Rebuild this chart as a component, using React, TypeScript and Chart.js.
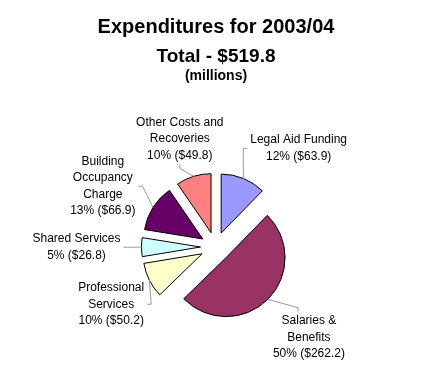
import React, { useEffect, useRef } from "react";
import { Chart, registerables } from "chart.js";

Chart.register(...registerables);

// ---- data ----
const categories: string[][] = [
  ["Legal Aid Funding"],
  ["Salaries &", "Benefits"],
  ["Professional", "Services"],
  ["Shared Services"],
  ["Building", "Occupancy", "Charge"],
  ["Other Costs and", "Recoveries"],
];
const values: number[] = [63.9, 262.2, 50.2, 26.8, 66.9, 49.8];
const colors: string[] = ["#9999FF", "#993366", "#FFFFCC", "#CCFFFF", "#660066", "#FF8080"];
const titleText = "Expenditures for 2003/04";
const totalText = "Total - $519.8";
const unitText = "(millions)";

// ---- style / layout ----
const FONT = "Arial, 'Liberation Sans', sans-serif";
const RADIUS = 59;
const EXPLODE = 15;
const LINE_H = 16.5;
const labelDistance: number[] = [129, 130, 119, 139, 128, 114];
const labelShift: number[] = [18, -1, -2, 0, -4, -1];

const total = values.reduce((a, b) => a + b, 0);

const piePlugin = {
  id: "explodedPieLabels",
  afterDatasetUpdate(chart: any) {
    const area = chart.chartArea;
    const cx = (area.left + area.right) / 2;
    const cy = (area.top + area.bottom) / 2;
    const meta = chart.getDatasetMeta(0);
    meta.data.forEach((arc: any) => {
      const mid = (arc.startAngle + arc.endAngle) / 2;
      arc.x = cx + Math.cos(mid) * EXPLODE;
      arc.y = cy + Math.sin(mid) * EXPLODE;
    });
  },
  afterDraw(chart: any) {
    const ctx: CanvasRenderingContext2D = chart.ctx;
    const area = chart.chartArea;
    const cx = (area.left + area.right) / 2;
    const cy = (area.top + area.bottom) / 2;
    const tx = chart.width / 2 + 3;
    ctx.save();
    ctx.fillStyle = "#000";
    ctx.textAlign = "center";
    ctx.textBaseline = "alphabetic";
    ctx.font = `bold 20px ${FONT}`;
    ctx.fillText(titleText, tx, 33);
    ctx.font = `bold 19px ${FONT}`;
    ctx.fillText(totalText, tx, 62);
    ctx.font = `bold 14px ${FONT}`;
    ctx.fillText(unitText, tx, 80);

    const meta = chart.getDatasetMeta(0);
    ctx.font = `12px ${FONT}`;
    meta.data.forEach((arc: any, i: number) => {
      const mid = (arc.startAngle + arc.endAngle) / 2;
      const r = arc.outerRadius;
      const px = arc.x + Math.cos(mid) * r;
      const py = arc.y + Math.sin(mid) * r;
      const a = mid + (labelShift[i] * Math.PI) / 180;
      const lx = cx + Math.cos(a) * labelDistance[i];
      const ly = cy + Math.sin(a) * labelDistance[i];
      const pct = Math.round((values[i] / total) * 100);
      const lines = [...categories[i], `${pct}% ($${values[i].toFixed(1)})`];
      const w = Math.max(...lines.map((l) => ctx.measureText(l).width));
      const n = lines.length;
      const halfH = (n * LINE_H) / 2;

      // leader line
      const dx = px - lx;
      const dy = py - ly;
      let sx: number, sy: number, bx: number, by: number;
      if (Math.abs(dx) > 1.1 * Math.abs(dy)) {
        const side = dx > 0 ? 1 : -1;
        sx = lx + side * (w / 2 + 3);
        sy = ly;
        bx = sx + side * 4;
        by = sy;
      } else {
        const side = dy > 0 ? 1 : -1;
        sy = ly + side * (halfH + 1);
        sx = Math.min(Math.max(px, lx - w / 2 + 25), lx);
        bx = sx;
        by = sy + side * 4;
      }
      ctx.strokeStyle = "#999999";
      ctx.lineWidth = 1;
      ctx.beginPath();
      ctx.moveTo(sx, sy);
      ctx.lineTo(bx, by);
      ctx.lineTo(px, py);
      ctx.stroke();

      ctx.fillStyle = "#000";
      ctx.textAlign = "center";
      ctx.textBaseline = "middle";
      lines.forEach((l, k) => {
        ctx.fillText(l, lx, ly + (k - (n - 1) / 2) * LINE_H);
      });
    });
    ctx.restore();
  },
};

export default function App() {
  const ref = useRef<HTMLCanvasElement>(null);
  useEffect(() => {
    const chart = new Chart(ref.current as HTMLCanvasElement, {
      type: "pie",
      data: {
        labels: categories.map((c) => c.join(" ")),
        datasets: [
          {
            data: values,
            backgroundColor: colors,
            borderColor: "#000000",
            borderWidth: 1,
            borderJoinStyle: "miter",
            radius: RADIUS,
          } as any,
        ],
      },
      options: {
        responsive: false,
        animation: false,
        devicePixelRatio: 1,
        events: [],
        layout: { padding: { left: 5, top: 114, right: 0, bottom: 0 } },
        plugins: {
          legend: { display: false },
          tooltip: { enabled: false },
          title: { display: false },
        },
      } as any,
      plugins: [piePlugin as any],
    });
    return () => chart.destroy();
  }, []);
  return (
    <div style={{ position: "fixed", left: 0, top: 0, width: 426, height: 380, background: "#fff" }}>
      <canvas ref={ref} width={426} height={380} style={{ display: "block" }} />
    </div>
  );
}
